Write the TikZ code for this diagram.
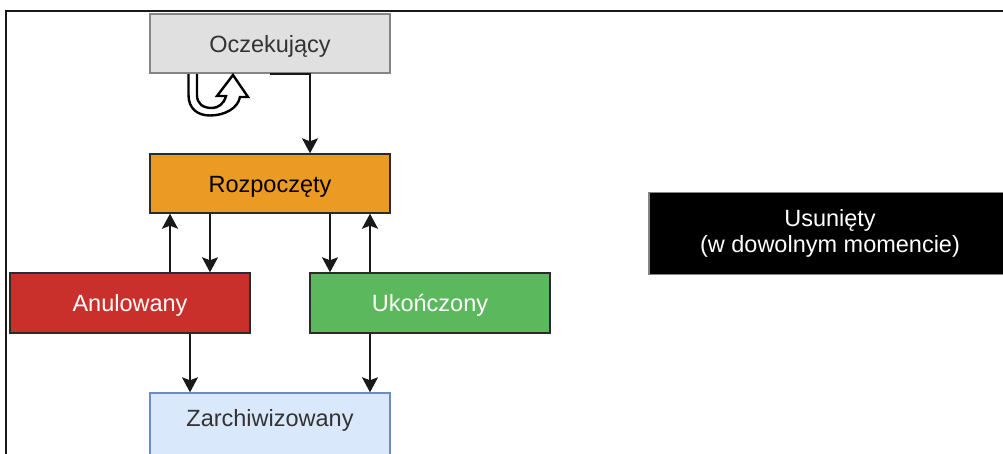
\documentclass[tikz,border=0pt]{standalone}
\usepackage{fontspec}
\setmainfont{Liberation Sans}
\usetikzlibrary{arrows.meta}
\definecolor{greyfill}{HTML}{E0E0E0}
\definecolor{greyline}{HTML}{858585}
\definecolor{orangefill}{HTML}{EB9A23}
\definecolor{redfill}{HTML}{C9302C}
\definecolor{greenfill}{HTML}{5CB85C}
\definecolor{bluefill}{HTML}{DAE8FC}
\definecolor{blueline}{HTML}{6C8EBF}
\definecolor{darkline}{HTML}{2B2B2B}
\definecolor{darktext}{HTML}{333333}
\tikzset{
  statebox/.style={draw=darkline, line width=1.4pt, minimum width=240pt, minimum height=59pt,
    inner sep=0pt, text height=17pt, text depth=0pt,
    font=\fontsize{23.5}{26}\selectfont},
  arr/.style={draw=black!90, line width=2pt, -{Stealth[length=15pt,width=16pt,inset=3pt]}},
}
\begin{document}
\begin{tikzpicture}[x=1pt,y=-1pt]
\useasboundingbox (0,0) rectangle (1003,453);
% frame
\draw[line width=2pt, black!90] (6,455) -- (6,10.5) -- (1005,10.5);

\node[statebox, draw=greyline, fill=greyfill, text=darktext] (ocz) at (270,43.5) {Oczekujący};
\node[statebox, fill=orangefill, text=black] (roz) at (270,183.5) {Rozpoczęty};
\node[statebox, fill=redfill, text=white, minimum height=60pt] (ano) at (130,303) {Anulowany};
\node[statebox, fill=greenfill, text=white, minimum height=60pt] (uko) at (430,303) {Ukończony};
\node[statebox, draw=blueline, fill=bluefill, text=darktext, minimum height=63pt, text depth=13pt] (zar) at (270,424.5) {Zarchiwizowany};
\node[draw=greyline, line width=1.4pt, fill=black, text=white, minimum width=362pt, minimum height=82pt,
  inner sep=0pt, align=center, font=\fontsize{23.5}{26.5}\selectfont] (usu) at (830,233.5)
  {Usunięty\\(w dowolnym momencie)};

% connectors
\draw[arr] (ocz.south) -- ([xshift=40pt]ocz.south) -- ([xshift=40pt]roz.north);
\draw[arr] ([xshift=40pt]ano.north) -- ([xshift=-100pt]roz.south);
\draw[arr] ([xshift=-60pt]roz.south) -- ([xshift=80pt]ano.north);
\draw[arr] ([xshift=60pt]roz.south) -- ([xshift=-100pt]uko.north);
\draw[arr] ([xshift=-60pt]uko.north) -- ([xshift=100pt]roz.south);
\draw[arr] ([xshift=60pt]ano.south) -- ([xshift=-80pt]zar.north);
\draw[arr] ([xshift=-60pt]uko.south) -- ([xshift=100pt]zar.north);

% u-turn icon
\draw[line width=2.4pt, fill=white, line join=miter]
  (188.5,74) -- (188.5,95)
  .. controls (188.5,109) and (198,115.5) .. (210,115.5)
  .. controls (225,115.5) and (238,108) .. (240,97)
  -- (248,97) -- (233,75) -- (217,96) -- (226,96)
  .. controls (224,104) and (218,108) .. (212,108)
  .. controls (203,108) and (197,104) .. (197,95)
  -- (197,74);
\end{tikzpicture}
\end{document}
